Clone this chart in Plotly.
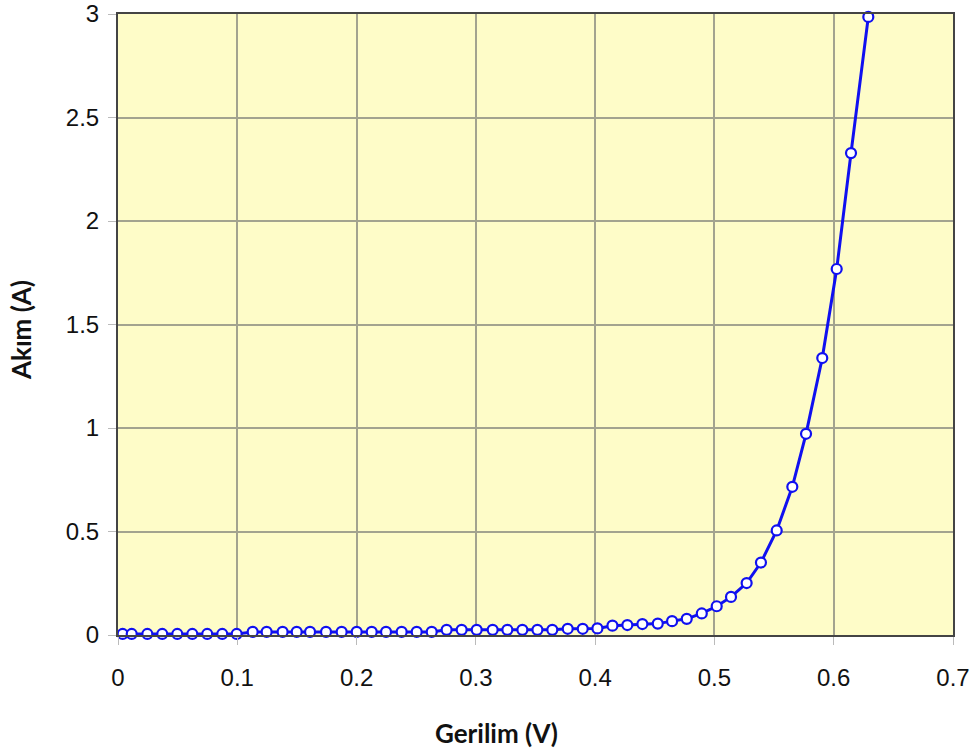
import plotly.graph_objects as go

voltage = [0.0039, 0.0115, 0.0246, 0.0371, 0.0497, 0.0623, 0.0748, 0.0874, 0.0995,
           0.1129, 0.1246, 0.1380, 0.1498, 0.1610, 0.1744, 0.1875, 0.2001, 0.2127,
           0.2247, 0.2378, 0.2504, 0.2630, 0.2755, 0.2881, 0.3007, 0.3141, 0.3264,
           0.3390, 0.3516, 0.3641, 0.3770, 0.3896, 0.4019, 0.4145, 0.4270, 0.4396,
           0.4525, 0.4645, 0.4768, 0.4894, 0.5019, 0.5139, 0.5270, 0.5390, 0.5522,
           0.5653, 0.5768, 0.5904, 0.6025, 0.6145, 0.6290]
current = [0.005, 0.005, 0.005, 0.005, 0.005, 0.005, 0.005, 0.005, 0.005,
           0.015, 0.015, 0.015, 0.015, 0.015, 0.015, 0.015, 0.015, 0.015,
           0.015, 0.015, 0.015, 0.015, 0.025, 0.025, 0.025, 0.025, 0.025,
           0.025, 0.025, 0.025, 0.030, 0.030, 0.032, 0.045, 0.048, 0.053,
           0.055, 0.067, 0.078, 0.104, 0.139, 0.184, 0.251, 0.350, 0.505,
           0.716, 0.972, 1.338, 1.768, 2.328, 2.986]

x_ticks = [0, 0.1, 0.2, 0.3, 0.4, 0.5, 0.6, 0.7]
x_labels = ["0", "0.1", "0.2", "0.3", "0.4", "0.5", "0.6", "0.7"]
y_ticks = [0, 0.5, 1, 1.5, 2, 2.5, 3]
y_labels = ["0", "0.5", "1", "1.5", "2", "2.5", "3"]
x_title = "Gerilim (V)"
y_title = "Akım (A)"

fig = go.Figure()
fig.add_trace(go.Scatter(
    x=voltage, y=current, mode="lines+markers",
    line=dict(color="#1010F0", width=3),
    marker=dict(symbol="circle", size=10, color="white",
                line=dict(color="#1010F0", width=2.2)),
    cliponaxis=False, showlegend=False,
))

tick_font = dict(family="Liberation Sans, Arial, sans-serif", size=24, color="#111111")
common = dict(
    tickfont=tick_font, showgrid=True, gridcolor="#A3A38F", gridwidth=2,
    showline=True, linecolor="#444444", linewidth=2, mirror=True,
    ticks="outside", ticklen=8, tickcolor="#BBBBBB", tickwidth=1,
    zeroline=False, automargin=False, ticklabeloverflow="allow",
)
fig.update_xaxes(range=[0, 0.7], tickvals=x_ticks, ticktext=x_labels,
                 ticklabelstandoff=12, **common)
fig.update_yaxes(range=[0, 3], tickvals=y_ticks, ticktext=y_labels,
                 ticklabelstandoff=4, **common)

top, bottom, left, right = 14, 118, 118, 22
pw, ph = 975 - left - right, 753 - top - bottom
title_font = dict(family="Lato, sans-serif", size=26, color="#111111", weight="bold")
fig.add_annotation(text=x_title, xref="paper", yref="paper", x=(496 - left) / pw,
                   y=-(733 - 635) / ph, xanchor="center", yanchor="middle",
                   showarrow=False, font=title_font)
fig.add_annotation(text=y_title, xref="paper", yref="paper", x=-(left - 21) / pw,
                   y=(635 - 330) / ph, xanchor="center", yanchor="middle",
                   textangle=-90, showarrow=False, font=title_font)

fig.update_layout(
    width=975, height=753,
    margin=dict(l=left, r=right, t=top, b=bottom),
    plot_bgcolor="#FEFCC8", paper_bgcolor="white",
)
fig.write_html("out.html")
